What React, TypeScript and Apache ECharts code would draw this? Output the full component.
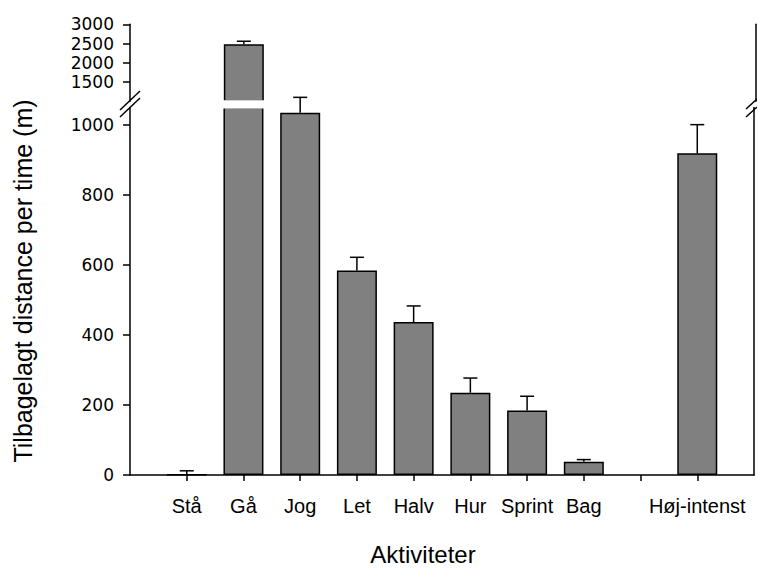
import React, { useEffect, useRef } from "react";
import * as echarts from "echarts";

const categories = ["Stå", "Gå", "Jog", "Let", "Halv", "Hur", "Sprint", "Bag", "", "Høj-intenst"];
const means: (number | null)[] = [1, 2480, 1035, 584, 437, 235, 184, 38, null, 919];
const errors: (number | null)[] = [11, 80, 44, 38, 46, 42, 41, 6, null, 82];
const lowerTicks = [0, 200, 400, 600, 800, 1000];
const upperTicks = [1500, 2000, 2500, 3000];
const lowerRange = [0, 1050];
const upperRange = [1000, 3000];

const FONT = "'Liberation Sans', Arial, sans-serif";
const TICK_FONT = "'DejaVu Sans', 'Liberation Sans', Arial, sans-serif";
const BAR_WIDTH = 40;

export default function App() {
  const ref = useRef<HTMLDivElement>(null);
  useEffect(() => {
    if (!ref.current) return;
    const chart = echarts.init(ref.current, null, { renderer: "svg" });
    const axisCats = ["", ...categories, ""];
    const pad = (arr: any[]) => ["-", ...arr, "-"];
    const lowerBars = pad(means.map((v) => (v == null ? "-" : v)));
    const upperBars = pad(means.map((v) => (v != null && v > lowerRange[1] ? v : "-")));
    const lowerErr: any[] = [];
    const upperErr: any[] = [];
    const brokenIdx: number[] = [];
    means.forEach((v, i) => {
      if (v == null || errors[i] == null) return;
      const item = [i + 1, v, errors[i]];
      if (v > lowerRange[1]) {
        upperErr.push(item);
        brokenIdx.push(i + 1);
      } else lowerErr.push(item);
    });
    const errRender = (params: any, api: any) => {
      const x = api.value(0);
      const v = api.value(1);
      const e = api.value(2);
      const p0 = api.coord([x, v]);
      const p1 = api.coord([x, v + e]);
      const hw = 7;
      const style = { stroke: "#000", lineWidth: 1.5 };
      return {
        type: "group",
        children: [
          { type: "line", shape: { x1: p0[0], y1: p0[1], x2: p1[0], y2: p1[1] }, style },
          { type: "line", shape: { x1: p1[0] - hw, y1: p1[1], x2: p1[0] + hw, y2: p1[1] }, style },
        ],
      };
    };
    const plain = (v: number) => String(v);
    const axisLine = { show: true, lineStyle: { color: "#000", width: 1.5 } };
    const catLabelStyle = { color: "#000", fontSize: 20, fontFamily: FONT };
    const yLabelStyle = {
      color: "#000",
      fontSize: 17,
      lineHeight: 17,
      fontFamily: TICK_FONT,
      showMinLabel: true,
      showMaxLabel: true,
      hideOverlap: false,
      margin: 16,
      formatter: plain,
    };
    const lowerGrid = { left: 130, right: 1, top: 107.5, bottom: 94 };
    const upperGrid = { left: 130, right: 1, top: 24.3, height: 77 };
    const breakLine = { stroke: "#000", lineWidth: 1.5 };
    const option: any = {
      animation: false,
      backgroundColor: "#fff",
      grid: [lowerGrid, upperGrid],
      xAxis: [
        {
          type: "category",
          gridIndex: 0,
          data: axisCats,
          boundaryGap: false,
          axisLine,
          axisTick: {
            show: true,
            length: 6,
            lineStyle: { color: "#000", width: 1.5 },
            interval: (i: number) => i > 0 && i < axisCats.length - 1,
          },
          axisLabel: { ...catLabelStyle, interval: 0, margin: 21 },
          splitLine: { show: false },
        },
        {
          type: "category",
          gridIndex: 1,
          data: axisCats,
          boundaryGap: false,
          show: false,
        },
      ],
      yAxis: [
        {
          type: "value",
          gridIndex: 0,
          min: lowerRange[0],
          max: lowerRange[1],
          axisLine,
          axisTick: {
            show: true,
            length: 7,
            lineStyle: { color: "#000", width: 1.5 },
            customValues: lowerTicks,
          },
          axisLabel: { ...yLabelStyle, customValues: lowerTicks },
          splitLine: { show: false },
        },
        {
          type: "value",
          gridIndex: 0,
          position: "right",
          min: lowerRange[0],
          max: lowerRange[1],
          axisLine,
          axisTick: { show: false },
          axisLabel: { show: false },
          splitLine: { show: false },
        },
        {
          type: "value",
          gridIndex: 1,
          min: upperRange[0],
          max: upperRange[1],
          axisLine,
          axisTick: {
            show: true,
            length: 7,
            lineStyle: { color: "#000", width: 1.5 },
            customValues: upperTicks,
          },
          axisLabel: { ...yLabelStyle, customValues: upperTicks },
          splitLine: { show: false },
        },
        {
          type: "value",
          gridIndex: 1,
          position: "right",
          min: upperRange[0],
          max: upperRange[1],
          axisLine,
          axisTick: { show: false },
          axisLabel: { show: false },
          splitLine: { show: false },
        },
      ],
      series: [
        {
          type: "bar",
          xAxisIndex: 0,
          yAxisIndex: 0,
          data: lowerBars,
          barWidth: BAR_WIDTH,
          itemStyle: { color: "#808080", borderColor: "#000", borderWidth: 1.5 },
        },
        {
          type: "bar",
          xAxisIndex: 1,
          yAxisIndex: 2,
          data: upperBars,
          barWidth: BAR_WIDTH,
          itemStyle: { color: "#808080", borderColor: "#000", borderWidth: 1.5 },
        },
        {
          type: "custom",
          xAxisIndex: 0,
          yAxisIndex: 0,
          data: lowerErr,
          renderItem: errRender,
          clip: false,
          z: 5,
        },
        {
          type: "custom",
          xAxisIndex: 1,
          yAxisIndex: 2,
          data: upperErr,
          renderItem: errRender,
          clip: false,
          z: 5,
        },
      ],
      graphic: [
        { type: "line", shape: { x1: 120, y1: 110, x2: 140, y2: 91 }, style: breakLine },
        { type: "line", shape: { x1: 120, y1: 117, x2: 140, y2: 98 }, style: breakLine },
        { type: "line", shape: { x1: 746, y1: 109, x2: 757, y2: 99 }, style: breakLine },
        { type: "line", shape: { x1: 746, y1: 117, x2: 757, y2: 107 }, style: breakLine },
        {
          type: "text",
          x: 23,
          y: 281,
          rotation: Math.PI / 2,
          style: {
            text: "Tilbagelagt distance per time (m)",
            fontSize: 25,
            fontFamily: FONT,
            fill: "#000",
            textAlign: "center",
            textVerticalAlign: "middle",
          },
        },
        {
          type: "text",
          x: 423,
          y: 554,
          style: {
            text: "Aktiviteter",
            fontSize: 24,
            fontFamily: FONT,
            fill: "#000",
            textAlign: "center",
            textVerticalAlign: "middle",
          },
        },
      ],
    };
    chart.setOption(option);

    // white gap across bars that cross the axis break
    const yTop = chart.convertToPixel({ yAxisIndex: 2 } as any, upperRange[0]) as number;
    const yBot = chart.convertToPixel({ yAxisIndex: 0 } as any, lowerRange[1]) as number;
    const gaps = brokenIdx.map((idx) => {
      const cx = chart.convertToPixel({ xAxisIndex: 0 } as any, idx) as number;
      return {
        type: "rect",
        z: 100,
        shape: { x: cx - BAR_WIDTH / 2 - 1.5, y: yTop - 1, width: BAR_WIDTH + 3, height: yBot - yTop + 2 },
        style: { fill: "#fff" },
      };
    });
    chart.setOption({ graphic: [...option.graphic, ...gaps] });

    return () => chart.dispose();
  }, []);
  return (
    <div
      ref={ref}
      style={{ position: "fixed", left: 0, top: 0, width: 757, height: 569, background: "#fff" }}
    />
  );
}
